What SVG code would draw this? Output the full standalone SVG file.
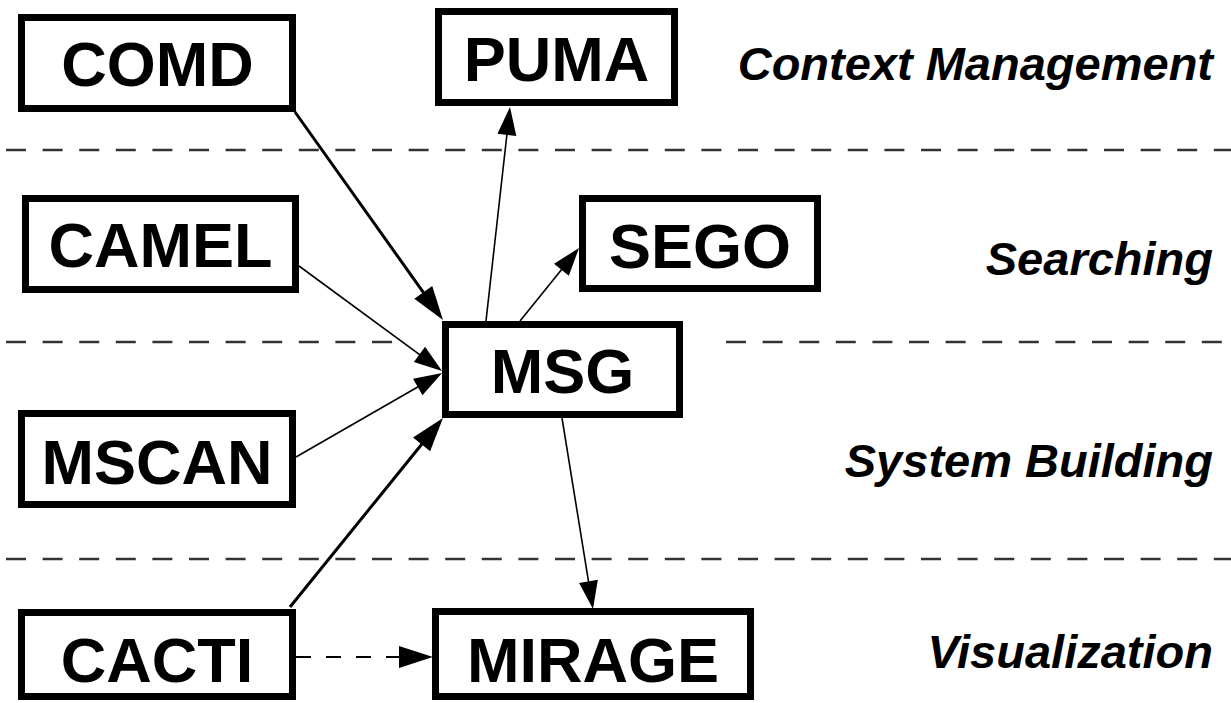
<svg xmlns="http://www.w3.org/2000/svg" width="1231" height="703" viewBox="0 0 1231 703">
<style>
.sep{stroke:#333;stroke-width:2.5;stroke-dasharray:20 16.6;fill:none}
.box{fill:#fff;stroke:#000;stroke-width:7}
.lbl{font-family:"Liberation Sans",Arial,sans-serif;font-weight:bold;font-size:63px;text-anchor:middle;fill:#000}
.cat{font-family:"Liberation Sans",Arial,sans-serif;font-weight:bold;font-style:italic;font-size:47px;text-anchor:end;fill:#000}
.thick{stroke:#000;stroke-width:3;fill:none;marker-end:url(#big)}
.thin{stroke:#000;stroke-width:1.6;fill:none;marker-end:url(#small)}
.dash{stroke:#000;stroke-width:1.8;fill:none;stroke-dasharray:15 15;marker-end:url(#big)}
</style>
<defs>
<marker id="big" markerUnits="userSpaceOnUse" markerWidth="34" markerHeight="22" refX="24" refY="11" orient="auto" overflow="visible">
<path d="M0,0 L34,11 L0,22 z" fill="#000"/>
</marker>
<marker id="small" markerUnits="userSpaceOnUse" markerWidth="28" markerHeight="19" refX="20" refY="9.5" orient="auto" overflow="visible">
<path d="M0,0 L28,9.5 L0,19 z" fill="#000"/>
</marker>
</defs>
<rect width="1231" height="703" fill="#fff"/>
<g id="separators">
<line class="sep" x1="6" y1="150" x2="1231" y2="150"/>
<line class="sep" x1="6" y1="342" x2="392" y2="342"/>
<line class="sep" x1="726" y1="342" x2="1231" y2="342"/>
<line class="sep" x1="6" y1="559" x2="1231" y2="559"/>
</g>
<g id="categories">
<text class="cat" x="1213" y="80">Context Management</text>
<text class="cat" x="1213" y="275">Searching</text>
<text class="cat" x="1213" y="477">System Building</text>
<text class="cat" x="1213" y="668">Visualization</text>
</g>
<g id="connectors">
<line class="thick" x1="295" y1="112" x2="437.2" y2="311.9"/>
<line class="thin" x1="299" y1="266" x2="435.6" y2="366.3"/>
<line class="thin" x1="296" y1="457" x2="435.1" y2="377"/>
<line class="thick" x1="290" y1="607" x2="436.7" y2="425.8"/>
<line class="thin" x1="486" y1="321" x2="509.1" y2="115"/>
<line class="thin" x1="520" y1="321" x2="574" y2="254.2"/>
<line class="thin" x1="562" y1="418" x2="591.7" y2="601.1"/>
<line class="dash" x1="296" y1="657" x2="423" y2="657"/>
</g>
<g id="COMD"><rect class="box" x="21.5" y="17.5" width="271" height="91"/><text class="lbl" x="157.5" y="86">COMD</text></g>
<g id="PUMA"><rect class="box" x="438.5" y="11.5" width="236" height="91"/><text class="lbl" x="556.5" y="81">PUMA</text></g>
<g id="SEGO"><rect class="box" x="582.5" y="198.5" width="235" height="90"/><text class="lbl" x="700" y="268">SEGO</text></g>
<g id="CAMEL"><rect class="box" x="25.5" y="198.5" width="270" height="91"/><text class="lbl" x="160.5" y="267">CAMEL</text></g>
<g id="MSG"><rect class="box" x="445.5" y="324.5" width="234" height="90"/><text class="lbl" x="562.5" y="393">MSG</text></g>
<g id="MSCAN"><rect class="box" x="21.5" y="413.5" width="271" height="91"/><text class="lbl" x="157" y="484">MSCAN</text></g>
<g id="CACTI"><rect class="box" x="21.5" y="612.5" width="271" height="84"/><text class="lbl" x="157" y="682">CACTI</text></g>
<g id="MIRAGE"><rect class="box" x="435.5" y="611.5" width="315" height="85"/><text class="lbl" x="593" y="682">MIRAGE</text></g>
</svg>
